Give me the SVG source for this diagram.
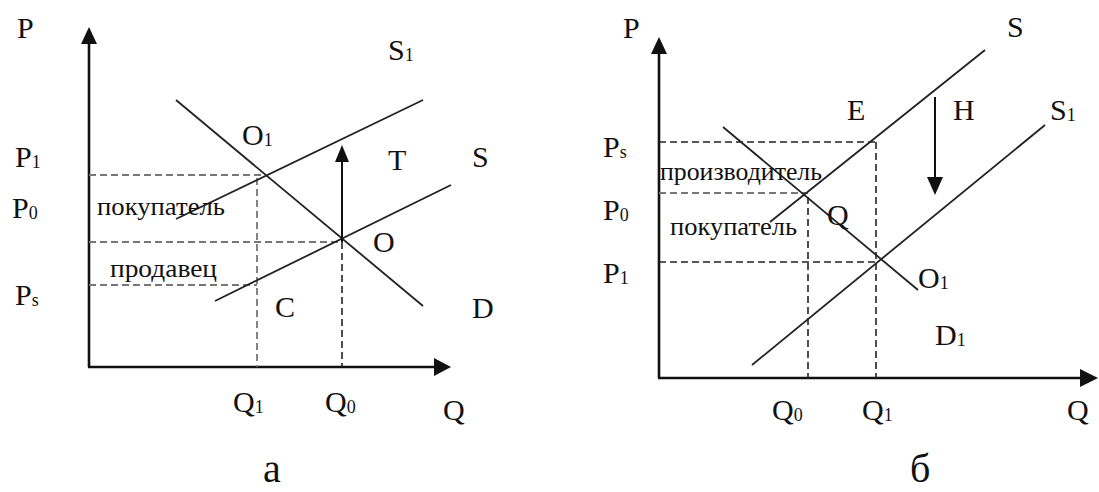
<svg xmlns="http://www.w3.org/2000/svg" width="1099" height="492" viewBox="0 0 1099 492">
<defs>
<style>
.t{font-family:"Liberation Serif","Times New Roman",serif;font-size:30px;fill:#111}
.w{font-family:"Liberation Serif","Times New Roman",serif;font-size:26px;fill:#111}
.cap{font-family:"Liberation Serif","Times New Roman",serif;font-size:40px;fill:#111}
.sub{font-size:18px}
.ax{stroke:#111;stroke-width:2.6;fill:none}
.ln{stroke:#222;stroke-width:1.8;fill:none}
.da{stroke:#777;stroke-width:1.8;stroke-dasharray:7 4;fill:none}
.db{stroke:#222;stroke-width:1.6;stroke-dasharray:7 4;fill:none}
.ah{fill:#111}
</style>
</defs>
<rect width="1099" height="492" fill="#fff"/>
<g id="graph-a">
<g id="axes-a">
<line class="ax" x1="89" y1="367" x2="89" y2="42"/>
<polygon class="ah" points="89,27 81,44 97,44"/>
<line class="ax" x1="88" y1="367" x2="436" y2="367"/>
<polygon class="ah" points="451,367 434,358 434,376"/>
</g>
<g id="connectors-a">
<line class="da" x1="89" y1="175" x2="265" y2="175"/>
<line class="da" x1="257" y1="178" x2="257" y2="367"/>
<line class="da" x1="89" y1="242" x2="342" y2="242"/>
<line class="da" x1="89" y1="285" x2="257" y2="285"/>
<line class="db" x1="342" y1="242" x2="342" y2="367"/>
<line class="ln" x1="176" y1="100" x2="423" y2="306"/>
<line class="ln" x1="176" y1="219" x2="423" y2="100"/>
<line class="ln" x1="215" y1="301" x2="451" y2="185"/>
<line class="ax" x1="342" y1="242" x2="342" y2="160" style="stroke-width:2"/>
<polygon class="ah" points="342,145 335,162 349,162"/>
</g>
<g id="labels-a">
<text class="t" x="17" y="38">P</text>
<text class="t" x="388" y="60">S<tspan class="sub" dy="1">1</tspan></text>
<text class="t" x="242" y="145">O<tspan class="sub" dy="1">1</tspan></text>
<text class="t" x="15" y="167">P<tspan class="sub" dy="1">1</tspan></text>
<text class="t" x="388" y="170">T</text>
<text class="t" x="472" y="167">S</text>
<text class="t" x="12" y="218">P<tspan class="sub" dy="1">0</tspan></text>
<text class="w" x="97" y="215" textLength="128" lengthAdjust="spacingAndGlyphs">покупатель</text>
<text class="t" x="373" y="252">O</text>
<text class="w" x="110" y="277" textLength="107" lengthAdjust="spacingAndGlyphs">продавец</text>
<text class="t" x="15" y="305">P<tspan class="sub" dy="1">s</tspan></text>
<text class="t" x="275" y="317">C</text>
<text class="t" x="472" y="318">D</text>
<text class="t" x="233" y="412">Q<tspan class="sub" dy="1">1</tspan></text>
<text class="t" x="325" y="412">Q<tspan class="sub" dy="1">0</tspan></text>
<text class="t" x="443" y="420">Q</text>
<text class="cap" x="263" y="482">а</text>
</g>
</g>
<g id="graph-b">
<g id="axes-b">
<line class="ax" x1="659" y1="378" x2="659" y2="52"/>
<polygon class="ah" points="659,37 651,54 667,54"/>
<line class="ax" x1="658" y1="378" x2="1082" y2="378"/>
<polygon class="ah" points="1098,378 1080,369 1080,387"/>
</g>
<g id="connectors-b">
<line class="db" x1="659" y1="142" x2="876" y2="142"/>
<line class="db" x1="876" y1="142" x2="876" y2="378"/>
<line class="da" x1="659" y1="193" x2="808" y2="193"/>
<line class="db" x1="808" y1="197" x2="808" y2="378"/>
<line class="db" x1="659" y1="262" x2="876" y2="262"/>
<line class="ln" x1="723" y1="127" x2="918" y2="290"/>
<line class="ln" x1="770" y1="222" x2="985" y2="50"/>
<line class="ln" x1="752" y1="365" x2="1045" y2="125"/>
<line class="ax" x1="935" y1="97" x2="935" y2="180" style="stroke-width:2"/>
<polygon class="ah" points="935,195 927,177 943,177"/>
</g>
<g id="labels-b">
<text class="t" x="623" y="38">P</text>
<text class="t" x="1007" y="37">S</text>
<text class="t" x="847" y="120">E</text>
<text class="t" x="953" y="120">H</text>
<text class="t" x="1050" y="120">S<tspan class="sub" dy="1">1</tspan></text>
<text class="t" x="603" y="157">P<tspan class="sub" dy="1">s</tspan></text>
<text class="w" x="660" y="180" textLength="162" lengthAdjust="spacingAndGlyphs">производитель</text>
<text class="t" x="603" y="220">P<tspan class="sub" dy="1">0</tspan></text>
<text class="t" x="827" y="225">Q</text>
<text class="w" x="670" y="235" textLength="127" lengthAdjust="spacingAndGlyphs">покупатель</text>
<text class="t" x="603" y="283">P<tspan class="sub" dy="1">1</tspan></text>
<text class="t" x="918" y="288">O<tspan class="sub" dy="1">1</tspan></text>
<text class="t" x="935" y="345">D<tspan class="sub" dy="1">1</tspan></text>
<text class="t" x="772" y="420">Q<tspan class="sub" dy="1">0</tspan></text>
<text class="t" x="862" y="420">Q<tspan class="sub" dy="1">1</tspan></text>
<text class="t" x="1067" y="420">Q</text>
<text class="cap" x="910" y="482">б</text>
</g>
</g>
</svg>
